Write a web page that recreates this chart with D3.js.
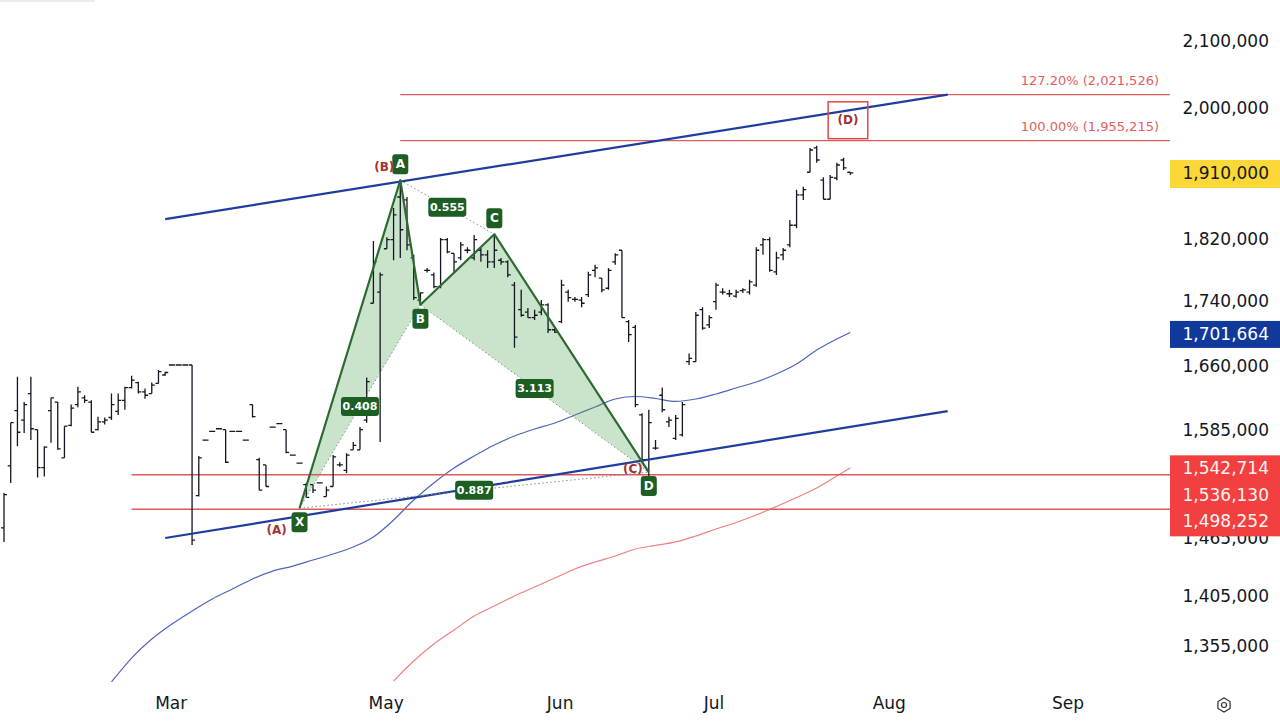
<!DOCTYPE html>
<html><head><meta charset="utf-8">
<script src="https://cdn.jsdelivr.net/npm/d3@7"></script>
<style>html,body{margin:0;padding:0;background:#fff;overflow:hidden}</style>
</head><body>
<svg id="chart" width="1280" height="724"></svg>
<script>
// ---------- DATA ----------
const barOpen = [1477000,1545000,1608000,1597000,1628000,1586000,1543000,1608000,1618000,1554000,
1591000,1615000,1623000,1618000,1586000,1595000,1600000,1607000,1620000,1635000,
1641000,1630000,1628000,1640000,1650000,1662000,1662000,1662000,1662000,1512000,
1574000,1584000,1587000,1586000,1584000,1584000,1574000,1615000,1552000,1546000,
1589000,1593000,1586000,1557000,1548000,1524000,1524000,1526000,1511000,1522000,
1546000,1540000,1563000,1563000,1597000,1738000,1752000,1808000,1820000,1877000,
1873000,1796000,1742000,1780000,1774000,1759000,1820000,1802000,1796000,1806000,
1796000,1806000,1800000,1791000,1793000,1791000,1761000,1730000,1727000,1720000,
1727000,1736000,1705000,1715000,1752000,1743000,1742000,1749000,1780000,1770000,
1757000,1791000,1806000,1715000,1708000,1603000,1540000,1565000,1626000,1595000,
1576000,1580000,1666000,1666000,1730000,1711000,1740000,1752000,1750000,1747000,
1754000,1752000,1761000,1813000,1820000,1778000,1800000,1813000,1839000,1880000,
1911000,1945000,1900000,1874000,1903000,1928000,1911000];
const barHigh = [1515000,1594000,1648000,1618000,1648000,1586000,1567000,1623000,1618000,1590000,
1615000,1636000,1626000,1620000,1601000,1600000,1628000,1628000,1636000,1649000,
1642000,1634000,1641000,1656000,1654000,1662000,1662000,1662000,1662000,1556000,
1574000,1584000,1587000,1586000,1584000,1584000,1574000,1615000,1554000,1546000,
1589000,1593000,1586000,1557000,1548000,1526000,1524000,1526000,1522000,1557000,
1549000,1559000,1572000,1589000,1647000,1818000,1777000,1823000,1862000,1900000,
1877000,1800000,1752000,1783000,1777000,1822000,1822000,1802000,1817000,1810000,
1826000,1809000,1806000,1827000,1796000,1793000,1765000,1755000,1732000,1730000,
1742000,1738000,1707000,1768000,1755000,1746000,1746000,1778000,1787000,1770000,
1783000,1802000,1806000,1717000,1711000,1605000,1609000,1574000,1635000,1601000,
1603000,1618000,1676000,1727000,1733000,1723000,1764000,1757000,1755000,1755000,
1757000,1768000,1810000,1822000,1823000,1804000,1809000,1846000,1887000,1891000,
1945000,1948000,1904000,1907000,1924000,1931000,1911000];
const barLow = [1462000,1526000,1567000,1582000,1574000,1532000,1533000,1571000,1563000,1554000,
1590000,1612000,1617000,1583000,1585000,1592000,1597000,1603000,1609000,1634000,
1628000,1622000,1628000,1640000,1649000,1662000,1662000,1662000,1459000,1511000,
1574000,1584000,1587000,1548000,1584000,1584000,1574000,1600000,1518000,1522000,
1589000,1593000,1559000,1557000,1548000,1510000,1515000,1526000,1511000,1522000,
1544000,1537000,1563000,1563000,1594000,1738000,1572000,1808000,1793000,1796000,
1806000,1742000,1736000,1777000,1757000,1757000,1802000,1778000,1793000,1802000,
1793000,1791000,1783000,1783000,1787000,1771000,1683000,1721000,1720000,1717000,
1723000,1701000,1701000,1713000,1740000,1740000,1733000,1746000,1771000,1752000,
1755000,1787000,1720000,1690000,1612000,1549000,1533000,1563000,1606000,1589000,
1574000,1578000,1662000,1666000,1705000,1707000,1730000,1749000,1746000,1745000,
1751000,1749000,1759000,1800000,1778000,1774000,1793000,1810000,1835000,1873000,
1911000,1924000,1874000,1874000,1900000,1914000,1907000];
const barClose = [1513000,1594000,1583000,1615000,1587000,1543000,1566000,1623000,1564000,1590000,
1611000,1630000,1620000,1583000,1595000,1597000,1615000,1620000,1635000,1644000,
1630000,1626000,1638000,1654000,1653000,1662000,1662000,1662000,1464000,1554000,
1574000,1584000,1587000,1549000,1584000,1584000,1574000,1601000,1518000,1522000,
1589000,1593000,1560000,1557000,1548000,1510000,1518000,1526000,1518000,1555000,
1546000,1557000,1568000,1586000,1642000,1791000,1774000,1820000,1853000,1833000,
1813000,1745000,1751000,1780000,1759000,1820000,1804000,1791000,1813000,1806000,
1820000,1800000,1791000,1806000,1791000,1774000,1696000,1723000,1720000,1723000,
1736000,1705000,1702000,1761000,1745000,1743000,1738000,1774000,1783000,1755000,
1780000,1800000,1720000,1699000,1615000,1552000,1594000,1565000,1609000,1597000,
1599000,1615000,1670000,1723000,1707000,1720000,1761000,1752000,1750000,1752000,
1755000,1765000,1806000,1820000,1780000,1796000,1806000,1839000,1880000,1887000,
1942000,1928000,1874000,1904000,1921000,1917000,1910000];

const yTickValues = [2100000,2000000,1910000,1820000,1740000,1660000,1585000,1465000,1405000,1355000];
const monthLabels = ["Mar","May","Jun","Jul","Aug","Sep"];
const monthBars = [24.9,56.9,82.8,105.7,131.8,158.4];

const maBlueBars = [16,19,22,25,28,31,34,37,40,43,46,49,52,55,58,61,64,67,70,73,76,79,82,85,88,91,94,97,100,103,106,109,112,115,118,121,124,126];
const maBlueValues = [1321100,1344200,1362800,1377700,1390700,1402900,1413100,1423400,1431600,1436800,1443100,1449400,1456800,1467400,1485500,1507200,1525900,1542500,1556000,1568500,1578700,1586700,1593600,1602900,1612200,1621600,1624500,1622200,1618700,1621600,1627500,1634600,1641700,1651200,1663200,1680100,1693600,1701664];
const maRedBars = [58,61,64,67,70,73,76,79,82,85,88,91,94,97,100,103,106,109,112,115,118,121,124,126];
const maRedValues = [1322000,1341300,1357900,1371800,1385700,1395800,1406000,1415200,1424400,1433800,1441000,1447300,1454700,1458400,1462100,1468400,1475900,1482900,1490900,1500100,1509900,1520400,1533600,1542714];

const levelValues = [1536130,1498252];
const levelStartBar = 19;
const fibRatios = ["127.20%","100.00%"];
const fibValues = [2021526,1955215];
const fibStartBar = 59;

const patternNames = ["X","A","B","C","D"];
const patternBars = [44,59,62,73,96];
const patternValues = [1498252,1900000,1736100,1827100,1538000];
const ratioTexts = ["0.408","0.555","3.113","0.887"];
const ratioPairs = [[0,2],[1,3],[2,4],[0,4]];
const abcdTexts = ["(A)","(B)","(C)"];
const abcdAt = [0,1,4];

const channelBars = [24,140.5];
const channelUpper = [1847300,2021500];
const channelLower = [1466300,1607500];

const projBoxBars = [122.7,128.6];
const projBoxValues = [2011000,1958000];
const projText = "(D)";

const currentPrice = 1910000;
const maBlueLast = 1701664;
const redStack = [1542714,1536130,1498252];

// ---------- SCALES ----------
const svg = d3.select("#chart");
const x = d3.scaleLinear().domain([0,126]).range([4,850.3]);
const y = d3.scaleLog().domain([1355000,2100000]).range([647,42]);
const plotRight = 1170;
const fmt = d3.format(",");
const FONT = "'DejaVu Sans', Verdana, sans-serif";

// top-left faint strip
svg.append("rect").attr("x",0).attr("y",0).attr("width",95).attr("height",2).attr("fill","#ececf0");

// ---------- MOVING AVERAGES ----------
const line = d3.line().curve(d3.curveMonotoneX);
svg.append("path")
  .attr("d", line(maBlueBars.map((b,i)=>[x(b), y(maBlueValues[i])])))
  .attr("fill","none").attr("stroke","#4f63bd").attr("stroke-width",1.2);
svg.append("path")
  .attr("d", line(maRedBars.map((b,i)=>[x(b), y(maRedValues[i])])))
  .attr("fill","none").attr("stroke","#f08080").attr("stroke-width",1.2);

// ---------- PATTERN FILL ----------
const P = patternBars.map((b,i)=>[x(b), y(patternValues[i])]);
const tri = (a,b,c)=>`M${P[a][0]},${P[a][1]}L${P[b][0]},${P[b][1]}L${P[c][0]},${P[c][1]}Z`;
svg.append("path").attr("d", tri(0,1,2)).attr("fill","rgba(90,170,95,0.32)");
svg.append("path").attr("d", tri(2,3,4)).attr("fill","rgba(90,170,95,0.32)");

// ---------- HORIZONTAL LEVELS ----------
levelValues.forEach(v=>{
  svg.append("line").attr("x1",x(levelStartBar)).attr("x2",plotRight)
    .attr("y1",y(v)+1).attr("y2",y(v)+1).attr("stroke","#dc5a5a").attr("stroke-width",1.6);
});
fibValues.forEach((v,i)=>{
  svg.append("line").attr("x1",x(fibStartBar)).attr("x2",plotRight)
    .attr("y1",y(v)).attr("y2",y(v)).attr("stroke","#e05c5c").attr("stroke-width",1.4);
  svg.append("text").attr("x",1159).attr("y",y(v)-10).attr("text-anchor","end")
    .attr("font-family",FONT).attr("font-size",13).attr("fill","#e35d5d")
    .text(`${fibRatios[i]} (${fmt(v)})`);
});

// ---------- OHLC BARS ----------
const barsG = svg.append("g");
barOpen.forEach((o,i)=>{
  const cx = x(i);
  barsG.append("path")
    .attr("d",`M${cx},${y(barHigh[i])}V${y(barLow[i])}M${cx-3},${y(o)}H${cx}M${cx},${y(barClose[i])}H${cx+3}`)
    .attr("stroke","#131722").attr("stroke-width",1.3).attr("fill","none");
});

// ---------- CHANNEL ----------
[channelUpper, channelLower].forEach(vals=>{
  svg.append("line").attr("x1",x(channelBars[0])).attr("y1",y(vals[0]))
    .attr("x2",x(channelBars[1])).attr("y2",y(vals[1]))
    .attr("stroke","#1f3d9c").attr("stroke-width",2.2);
});

// ---------- PATTERN LINES ----------
ratioPairs.forEach(([a,b])=>{
  svg.append("line").attr("x1",P[a][0]).attr("y1",P[a][1]).attr("x2",P[b][0]).attr("y2",P[b][1])
    .attr("stroke","#7b957c").attr("stroke-width",1).attr("stroke-dasharray","1.5,2.5");
});
svg.append("path").attr("d", d3.line()(P)).attr("fill","none")
  .attr("stroke","#2c6a30").attr("stroke-width",2.2).attr("stroke-linejoin","round");

// ratio labels
ratioPairs.forEach(([a,b],i)=>{
  const mx=(P[a][0]+P[b][0])/2, my=(P[a][1]+P[b][1])/2;
  svg.append("rect").attr("x",mx-19).attr("y",my-9.5).attr("width",38).attr("height",19).attr("rx",3)
    .attr("fill","#1d5e22");
  svg.append("text").attr("x",mx).attr("y",my+0.5).attr("text-anchor","middle").attr("dominant-baseline","middle")
    .attr("font-family",FONT).attr("font-size",11).attr("font-weight","bold").attr("fill","#fff").text(ratioTexts[i]);
});

// point labels
const below = [true,false,true,false,true];
patternNames.forEach((n,i)=>{
  const cx=P[i][0], cy=P[i][1] + (below[i]?14:-16);
  svg.append("rect").attr("x",cx-8).attr("y",cy-10).attr("width",16).attr("height",20).attr("rx",3).attr("fill","#1d5e22");
  svg.append("text").attr("x",cx).attr("y",cy+0.5).attr("text-anchor","middle").attr("dominant-baseline","middle")
    .attr("font-family",FONT).attr("font-size",12).attr("font-weight","bold").attr("fill","#fff").text(n);
});

// ABCD labels
const abcdOff = [[-23,22],[-16,-13],[-16,-3]];
abcdAt.forEach((pi,i)=>{
  svg.append("text").attr("x",P[pi][0]+abcdOff[i][0]).attr("y",P[pi][1]+abcdOff[i][1])
    .attr("text-anchor","middle").attr("dominant-baseline","middle")
    .attr("font-family",FONT).attr("font-size",12).attr("font-weight","bold").attr("fill","#a33232").text(abcdTexts[i]);
});

// projection box
svg.append("rect").attr("x",x(projBoxBars[0])).attr("y",y(projBoxValues[0]))
  .attr("width",x(projBoxBars[1])-x(projBoxBars[0])).attr("height",y(projBoxValues[1])-y(projBoxValues[0]))
  .attr("fill","none").attr("stroke","#e04848").attr("stroke-width",1.5);
svg.append("text").attr("x",(x(projBoxBars[0])+x(projBoxBars[1]))/2)
  .attr("y",(y(projBoxValues[0])+y(projBoxValues[1]))/2)
  .attr("text-anchor","middle").attr("dominant-baseline","middle")
  .attr("font-family",FONT).attr("font-size",12).attr("font-weight","bold").attr("fill","#a33232").text(projText);

// ---------- AXES ----------
const yAxisG = svg.append("g");
yTickValues.forEach(v=>{
  yAxisG.append("text").attr("x",1269).attr("y",y(v)).attr("text-anchor","end").attr("dominant-baseline","middle")
    .attr("font-family",FONT).attr("font-size",17).attr("fill","#131722").text(fmt(v));
});
monthLabels.forEach((m,i)=>{
  svg.append("text").attr("x",x(monthBars[i])).attr("y",704).attr("text-anchor","middle").attr("dominant-baseline","middle")
    .attr("font-family",FONT).attr("font-size",17).attr("fill","#131722").text(m);
});

// price labels
function priceBox(v, cy, h, bg, fg){
  svg.append("rect").attr("x",1170).attr("y",cy-h/2).attr("width",110).attr("height",h).attr("fill",bg);
  svg.append("text").attr("x",1269).attr("y",cy+0.5).attr("text-anchor","end").attr("dominant-baseline","middle")
    .attr("font-family",FONT).attr("font-size",17).attr("fill",fg).text(fmt(v));
}
priceBox(currentPrice, y(currentPrice)+1, 28, "#fbd737", "#131722");
priceBox(maBlueLast, y(maBlueLast)+2, 27, "#0f3a9c", "#ffffff");
const stackTop = y(redStack[0]) + 1.5;
svg.append("rect").attr("x",1170).attr("y",stackTop-14).attr("width",110).attr("height",14+26.5*2+14).attr("fill","#f23f3f");
redStack.forEach((v,i)=>{
  svg.append("text").attr("x",1269).attr("y",stackTop+26.5*i).attr("text-anchor","end").attr("dominant-baseline","middle")
    .attr("font-family",FONT).attr("font-size",17).attr("fill","#fff3f3").text(fmt(v));
});

// settings icon
const g = svg.append("g").attr("transform","translate(1224,705)");
const hex = d3.range(6).map(k=>[7*Math.cos(Math.PI/3*k+Math.PI/6), 7*Math.sin(Math.PI/3*k+Math.PI/6)]);
g.append("path").attr("d", d3.line()(hex)+"Z").attr("fill","none").attr("stroke","#333").attr("stroke-width",1.2);
g.append("circle").attr("r",2.5).attr("fill","none").attr("stroke","#333").attr("stroke-width",1.2);
</script>
</body></html>
